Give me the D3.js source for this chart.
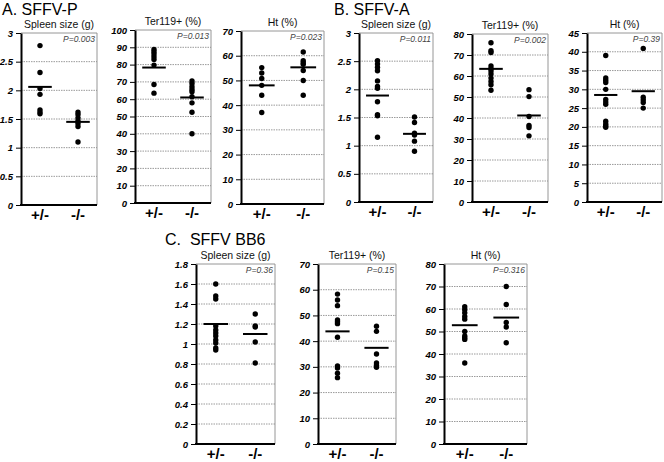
<!DOCTYPE html>
<html><head><meta charset="utf-8">
<script src="https://cdn.jsdelivr.net/npm/d3@7"></script>
<style>
body{margin:0;background:#fff}
svg{display:block}
text{font-family:"Liberation Sans",Arial,Helvetica,sans-serif}
</style>
</head><body>
<svg id="chart" width="664" height="462"></svg>
<script>
// ---------------- DATA ----------------
const groups = ["+/-", "-/-"];
const sectionTitles = ["A. SFFV-P", "B. SFFV-A", "C.  SFFV BB6"];
const measures = ["Spleen size (g)", "Ter119+ (%)", "Ht (%)",
                  "Spleen size (g)", "Ter119+ (%)", "Ht (%)",
                  "Spleen size (g)", "Ter119+ (%)", "Ht (%)"];
const pLabels = ["P=0.003", "P=0.013", "P=0.023",
                 "P=0.011", "P=0.002", "P=0.39",
                 "P=0.36", "P=0.15", "P=0.316"];
const yMaxes = [3, 100, 70, 3, 80, 45, 1.8, 70, 80];
const yTickSteps = [0.5, 10, 10, 0.5, 10, 5, 0.2, 10, 10];

const hetValues = [
  [2.78, 2.31, 2.03, 1.93, 1.66, 1.62, 1.59],
  [88.8, 87.5, 86.1, 84.6, 83.0, 79.7, 68.5, 63.5],
  [55.2, 53.0, 50.8, 48.0, 44.0, 37.0],
  [2.51, 2.45, 2.39, 2.33, 2.15, 2.05, 2.02, 1.78, 1.55, 1.53, 1.15],
  [75.8, 72.0, 71.2, 64.8, 63.5, 62.4, 61.0, 59.0, 57.4, 55.8, 53.2],
  [39.0, 33.0, 32.4, 31.8, 30.0, 27.3, 26.6, 26.0, 21.5, 20.8, 20.3, 19.9],
  [1.60, 1.48, 1.45, 1.18, 1.14, 1.11, 1.08, 1.04, 1.01, 0.96, 0.94],
  [58.3, 56.0, 53.8, 48.2, 47.5, 46.8, 41.5, 30.4, 29.6, 27.5, 25.8],
  [61.0, 59.7, 58.3, 56.7, 55.5, 50.0, 48.0, 47.2, 46.5, 36.0]
];
const koValues = [
  [1.62, 1.58, 1.52, 1.47, 1.42, 1.37, 1.10],
  [70.5, 69.1, 67.2, 65.6, 64.3, 61.4, 57.9, 52.5, 40.0],
  [61.5, 58.0, 57.2, 56.5, 54.0, 50.0, 44.0],
  [1.51, 1.41, 1.22, 1.19, 1.08, 0.90],
  [53.5, 50.2, 40.7, 36.5, 35.5, 31.5],
  [40.9, 27.9, 27.2, 26.5, 25.0],
  [1.30, 1.18, 1.17, 1.02, 0.81],
  [45.8, 43.8, 35.0, 31.5, 30.6, 29.8],
  [70.0, 62.0, 54.0, 52.0, 45.0]
];
const hetMeans = [2.06, 78.3, 48.0, 1.89, 63.4, 28.5, 1.20, 43.8, 52.8];
const koMeans  = [1.45, 61.0, 55.3, 1.21, 41.2, 29.5, 1.10, 37.4, 56.2];

// ---------------- LAYOUT ----------------
const layout = [
  {x0: 21,  x1: 97,  yT: 33, yB: 205},
  {x0: 135, x1: 211, yT: 30, yB: 203},
  {x0: 241, x1: 324, yT: 31, yB: 204},
  {x0: 359, x1: 433, yT: 33, yB: 202},
  {x0: 472, x1: 548, yT: 34, yB: 202},
  {x0: 587, x1: 662, yT: 33, yB: 202},
  {x0: 196, x1: 275, yT: 264, yB: 444},
  {x0: 318, x1: 396, yT: 264, yB: 444},
  {x0: 444, x1: 527, yT: 264, yB: 444}
];
const sectionPos = [{x: 2, y: 15}, {x: 334, y: 15}, {x: 165, y: 245}];

const svg = d3.select("#chart");

sectionTitles.forEach((t, i) => {
  svg.append("text").attr("x", sectionPos[i].x).attr("y", sectionPos[i].y)
    .attr("font-size", 16).attr("fill", "#000")
    .style("white-space", "pre").text(t);
});

const fmt = v => String(+v.toFixed(2));

layout.forEach((L, i) => {
  const g = svg.append("g");
  const yMax = yMaxes[i], step = yTickSteps[i];
  const ticks = d3.range(0, Math.round(yMax / step) + 1).map(k => +(k * step).toFixed(3));
  const y = d3.scaleLinear().domain([0, yMax]).range([L.yB, L.yT]);
  const x = d3.scaleBand().domain(groups).range([L.x0, L.x1]);

  // gridlines
  g.selectAll("line.grid").data(ticks.filter(t => t > 0 && t < yMax)).enter()
    .append("line").attr("class", "grid")
    .attr("x1", L.x0).attr("x2", L.x1)
    .attr("y1", d => y(d)).attr("y2", d => y(d))
    .attr("stroke", "#9a9a9a").attr("stroke-width", 1).attr("stroke-dasharray", "1.5,1");

  // box top/right
  g.append("path")
    .attr("d", `M${L.x0},${y(yMax)}H${L.x1}V${L.yB}`)
    .attr("fill", "none").attr("stroke", "#8a8a8a").attr("stroke-width", 0.9);

  // title
  g.append("text").attr("x", (L.x0 + L.x1) / 2).attr("y", L.yT - 5)
    .attr("text-anchor", "middle").attr("font-size", 10.5).attr("fill", "#111")
    .text(measures[i]);

  // p-value
  g.append("text").attr("x", L.x1 - 2).attr("y", L.yT + 9)
    .attr("text-anchor", "end").attr("font-size", 8.5).attr("font-style", "italic")
    .attr("fill", "#444").text(pLabels[i]);

  // y axis
  const ya = g.append("g").attr("transform", `translate(${L.x0},0)`)
    .call(d3.axisLeft(y).tickValues(ticks).tickFormat(fmt).tickSize(5).tickSizeOuter(0).tickPadding(3));
  ya.select(".domain").attr("stroke", "#000").attr("stroke-width", 2);
  ya.selectAll(".tick line").attr("stroke", "#000").attr("stroke-width", 1);
  ya.selectAll(".tick text").attr("font-size", 9.5).attr("font-weight", "bold")
    .attr("font-style", "italic").attr("fill", "#000")
    .attr("font-family", "'Liberation Sans',Arial,sans-serif");

  // x axis
  const xa = g.append("g").attr("transform", `translate(0,${L.yB})`)
    .call(d3.axisBottom(x).tickSize(0).tickSizeOuter(0).tickPadding(4));
  xa.select(".domain").attr("stroke", "#000").attr("stroke-width", 2)
    .attr("d", `M${L.x0 - 1},0H${L.x1}`);
  xa.selectAll(".tick text").attr("font-size", 15).attr("font-weight", "bold")
    .attr("fill", "#000").attr("font-family", "'Liberation Sans',Arial,sans-serif");

  const series = [hetValues[i], koValues[i]];
  const means = [hetMeans[i], koMeans[i]];
  groups.forEach((grp, gi) => {
    const cx = x(grp) + x.bandwidth() / 2;
    g.selectAll(null).data(series[gi]).enter().append("circle")
      .attr("cx", cx).attr("cy", d => y(d)).attr("r", 2.7).attr("fill", "#000");
    const hw = x.bandwidth() * 0.31;
    g.append("line").attr("x1", cx - hw).attr("x2", cx + hw)
      .attr("y1", y(means[gi])).attr("y2", y(means[gi]))
      .attr("stroke", "#000").attr("stroke-width", 2);
  });
});
</script>
</body></html>
